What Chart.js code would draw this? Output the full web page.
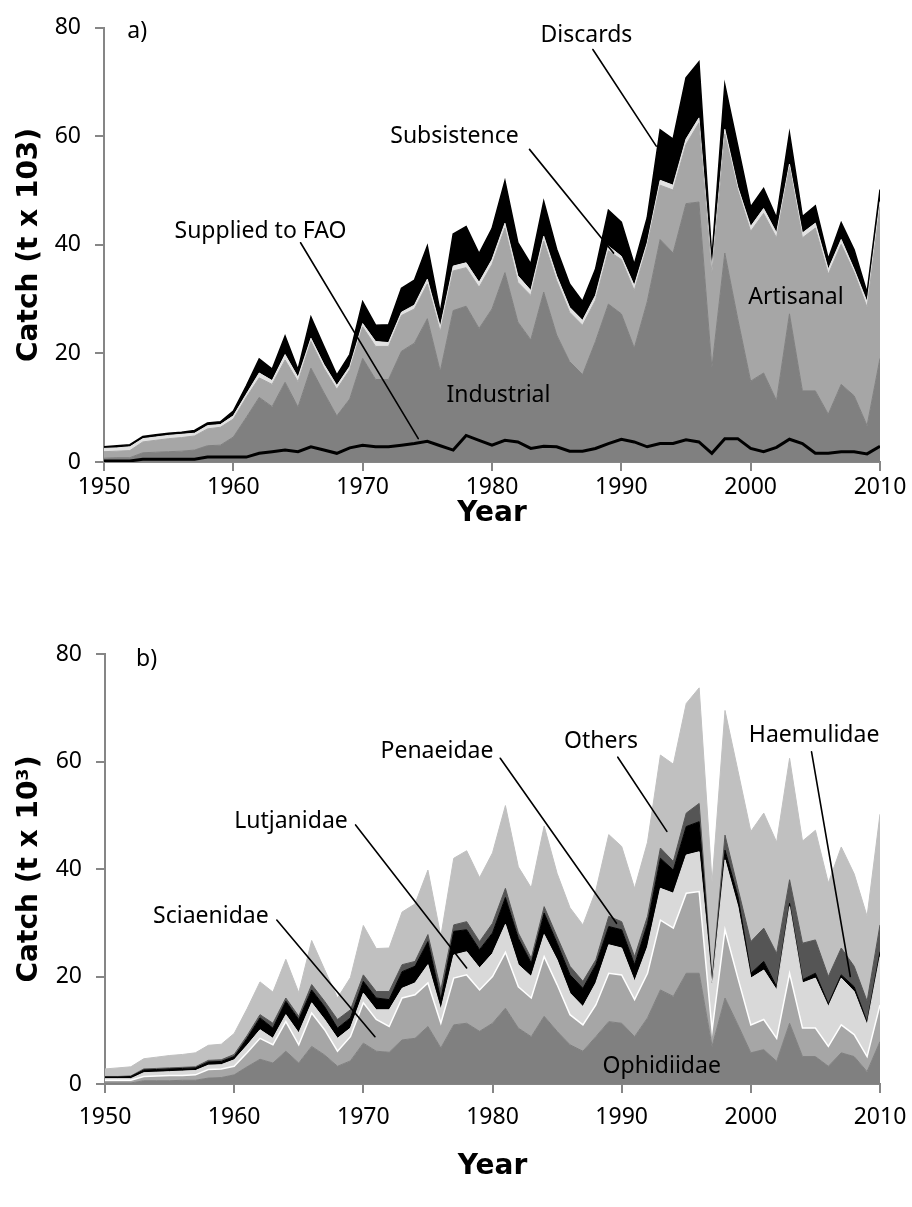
<!DOCTYPE html>
<html><head><meta charset="utf-8">
<script src="https://cdn.jsdelivr.net/npm/chart.js@4.4.0/dist/chart.umd.min.js"></script>
<style>
html,body{margin:0;padding:0;background:#fff;}
#wrap{position:relative;width:912px;height:1207px;overflow:hidden;}
canvas{position:absolute;left:0;}
#ca{top:0;}
#cb{top:600px;}
</style></head><body>
<div id="wrap"><canvas id="ca" width="912" height="560"></canvas><canvas id="cb" width="912" height="607"></canvas></div>
<script>
const years = [1950,1951,1952,1953,1954,1955,1956,1957,1958,1959,1960,1961,1962,1963,1964,1965,1966,1967,1968,1969,1970,1971,1972,1973,1974,1975,1976,1977,1978,1979,1980,1981,1982,1983,1984,1985,1986,1987,1988,1989,1990,1991,1992,1993,1994,1995,1996,1997,1998,1999,2000,2001,2002,2003,2004,2005,2006,2007,2008,2009,2010];
const xTicks = [1950,1960,1970,1980,1990,2000,2010];
const yTicks = [0,20,40,60,80];

// Panel a (sectors, t x 10^3)
const industrial = [0.7,0.8,0.8,1.7,1.8,1.9,2.0,2.2,3.0,3.1, 4.6,8.2,11.9,10.2,14.7,10.1,17.3,12.8,8.5,11.6, 19.1,15.2,15.2,20.4,21.9,26.4,16.7,27.9,28.7,24.6, 28.2,34.9,25.8,22.5,31.3,23.4,18.5,16.1,22.2,29.1, 27.3,21.0,29.5,41.0,38.5,47.6,47.9,17.3,38.5,26.4, 14.9,16.4,11.3,27.3,13.1,13.1,8.8,14.3,12.2,6.7,19.1];
const artisanal = [1.2,1.2,1.3,2.0,2.2,2.4,2.5,2.6,3.1,3.3, 3.3,3.7,3.6,4.1,4.1,4.7,4.9,4.5,4.9,5.4, 5.8,6.1,6.1,6.6,6.3,6.4,7.3,7.3,7.1,7.6, 8.2,8.2,7.3,8.2,9.4,10.0,9.1,9.1,7.6,9.8, 10.0,10.6,10.3,10.0,11.6,10.9,14.6,17.6,21.9,23.7, 27.6,29.4,30.0,27.0,28.2,30.0,25.8,25.8,22.7,21.8,27.9];
const subsistence = [0.6,0.6,0.7,0.6,0.6,0.6,0.6,0.5,0.6,0.5, 0.6,0.6,0.9,0.7,1.0,0.8,0.6,0.7,0.7,0.6, 0.6,0.9,0.7,0.6,0.7,0.9,0.9,0.9,0.9,0.9, 0.9,0.9,1.2,0.9,0.9,0.9,0.9,0.9,0.9,0.9, 0.6,0.9,0.6,0.9,0.9,1.0,0.9,0.6,0.9,0.6, 0.9,0.9,0.9,0.6,0.9,0.9,0.9,0.9,0.6,1.0,1.0];
const discards = [0.3,0.4,0.4,0.4,0.4,0.4,0.4,0.5,0.5,0.5, 0.9,1.5,2.6,2.1,3.4,1.4,3.9,3.3,1.9,2.2, 4.0,3.0,3.3,4.4,4.6,6.1,2.6,5.9,6.7,5.3, 5.7,7.8,6.1,4.9,6.4,4.9,4.3,3.5,4.8,6.6, 6.3,3.9,4.6,9.3,8.5,11.3,10.3,2.0,8.2,7.6, 3.6,3.7,2.8,5.7,3.0,3.2,1.9,3.1,3.6,1.7,2.2];
const suppliedFAO = [0.2,0.2,0.2,0.5,0.5,0.5,0.5,0.5,0.9,0.9, 0.9,0.9,1.6,1.9,2.2,1.9,2.8,2.2,1.6,2.6, 3.1,2.8,2.8,3.1,3.4,3.8,3.0,2.2,4.9,4.0, 3.1,4.0,3.7,2.5,2.9,2.8,2.0,2.0,2.5,3.4, 4.2,3.7,2.8,3.4,3.4,4.1,3.7,1.6,4.3,4.3, 2.5,1.9,2.7,4.2,3.4,1.6,1.6,1.9,1.9,1.5,2.9];

// Panel b (families, t x 10^3)
const ophidiidae = [0.2,0.2,0.2,0.6,0.6,0.6,0.7,0.7,1.1,1.2, 1.7,3.2,4.6,3.9,6.1,3.9,7.0,5.4,3.3,4.3, 7.6,6.1,5.9,8.2,8.5,10.7,6.7,11.0,11.3,9.8, 11.3,14.1,10.4,8.8,12.6,9.8,7.3,6.1,8.8,11.6, 11.3,8.8,12.3,17.5,16.3,20.6,20.6,7.0,16.0,11.0, 5.8,6.4,4.2,11.3,5.1,5.1,3.3,5.8,5.1,2.3,7.9];
const sciaenidae = [0.5,0.5,0.5,0.8,0.9,1.0,0.9,1.0,1.6,1.6, 1.6,2.6,3.9,3.4,5.5,3.4,6.2,4.7,2.8,4.5, 7.5,5.9,4.8,7.8,8.1,8.1,4.6,8.7,9.0,7.7, 8.7,10.4,7.7,7.2,11.1,8.7,5.6,4.9,5.9,9.0, 9.0,6.9,8.3,13.0,12.7,14.9,15.2,3.0,12.7,8.7, 5.2,5.6,4.3,9.3,5.3,5.3,3.7,5.2,4.1,2.8,6.8];
const lutjanidae = [0.3,0.3,0.3,0.7,0.7,0.7,0.8,0.8,0.8,0.8, 1.2,1.4,1.6,1.2,1.3,2.2,1.9,1.9,2.4,1.6, 1.8,1.8,3.1,1.8,2.2,3.4,2.5,4.3,4.3,4.1, 4.3,5.2,4.1,4.0,4.1,4.6,4.0,3.4,4.1,5.3, 5.0,3.4,4.9,5.9,6.5,7.1,7.4,8.3,13.0,13.3, 8.7,9.2,9.0,12.4,8.4,9.3,7.4,8.7,8.0,5.9,9.0];
const penaeidae = [0.3,0.3,0.4,0.5,0.5,0.5,0.5,0.5,0.6,0.6, 0.6,1.3,2.2,1.9,2.5,2.5,2.4,2.4,1.9,1.9, 2.2,2.2,1.9,3.1,3.1,4.3,1.9,4.4,4.1,3.4, 3.8,5.0,4.9,2.5,4.0,3.1,3.4,3.4,3.4,3.4, 3.4,3.1,4.3,5.6,4.3,5.3,5.6,0.5,1.8,1.9, 0.9,1.6,0.6,0.6,0.6,0.9,0.5,0.6,0.9,0.5,0.9];
const haemulidae = [0.1,0.1,0.1,0.2,0.2,0.2,0.2,0.2,0.3,0.3, 0.4,0.5,0.6,0.9,0.6,0.6,1.0,1.0,1.6,1.5, 1.2,1.2,1.5,1.3,0.9,1.3,1.8,1.2,1.5,1.5, 1.8,1.7,1.0,0.9,1.2,1.2,1.6,1.3,0.9,1.9, 1.5,1.5,1.4,1.9,1.6,2.5,3.4,0.6,2.8,1.5, 5.9,6.2,6.2,4.4,6.8,6.2,5.1,5.0,3.8,3.9,5.0];
const others = [1.4,1.6,1.7,1.9,2.1,2.3,2.4,2.6,2.8,2.9, 3.9,5.0,6.1,5.8,7.2,4.4,8.2,5.9,4.0,6.0, 9.2,8.0,8.1,9.8,10.7,12.0,10.0,12.4,13.2,11.9, 13.1,15.4,12.3,13.1,15.0,11.8,10.9,10.5,12.9,15.2, 14.0,12.7,13.8,17.3,18.1,20.4,21.5,18.1,23.2,21.9, 20.5,21.4,20.7,22.6,19.0,20.4,17.4,18.8,17.2,15.8,20.6];

// Annotations in data units: [text, year, value, align]
const labelsA = [["a)",1951.8,79.4,"left"],["Supplied to FAO",1962.1,42.4],["Subsistence",1977.1,60.0],["Discards",1987.3,78.6],["Industrial",1980.5,12.2],["Artisanal",2003.5,30.4]];
const leadersA = [[1965.2,40.4,1974.3,4.3],[1982.9,57.6,1989.4,38.5],[1987.8,76.0,1992.7,58.2]];
const labelsB = [["b)",1952.4,78.9,"left"],["Sciaenidae",1958.2,31.1],["Lutjanidae",1964.4,48.8],["Penaeidae",1975.7,61.8],["Others",1988.4,63.8],["Haemulidae",2004.9,64.9],["Ophidiidae",1993.1,3.2]];
const leadersB = [[1963.3,30.5,1970.9,8.8],[1969.4,48.2,1978.0,21.6],[1980.6,60.6,1989.6,29.9],[1989.7,60.8,1993.5,47.0],[2004.7,61.8,2007.7,20.0]];

const FONT = '"Noto Sans", "DejaVu Sans", sans-serif';
const TITLE_FONT = '"DejaVu Sans", sans-serif';
const AXIS_COLOR = '#868686';

const pts = arr => arr.map((v, i) => ({x: years[i], y: v}));

const annotate = {
  id: 'annotate',
  afterDatasetsDraw(chart, args, opts) {
    const {ctx} = chart; const x = chart.scales.x, y = chart.scales.y;
    ctx.save();
    ctx.strokeStyle = '#000'; ctx.lineWidth = 1.6; ctx.lineCap = 'round';
    for (const l of opts.leaders) {
      ctx.beginPath();
      ctx.moveTo(x.getPixelForValue(l[0]), y.getPixelForValue(l[1]));
      ctx.lineTo(x.getPixelForValue(l[2]), y.getPixelForValue(l[3]));
      ctx.stroke();
    }
    ctx.fillStyle = '#000'; ctx.font = '23px ' + FONT; ctx.textBaseline = 'middle';
    for (const t of opts.labels) {
      ctx.textAlign = t[3] || 'center';
      ctx.fillText(t[0], x.getPixelForValue(t[1]), y.getPixelForValue(t[2]));
    }
    ctx.restore();
  }
};

function area(label, data, color, border, bw, fill) {
  return {label, data: pts(data), backgroundColor: color, borderColor: border || color, borderWidth: bw === undefined ? 1 : bw,
    fill, pointRadius: 0, pointHoverRadius: 0, tension: 0, stack: 's'};
}

function makeChart(id, datasets, yTitle, yW, xH, padTop, tickPad, xTitlePad, labels, leaders) {
  return new Chart(document.getElementById(id), {
    type: 'line',
    data: {datasets},
    plugins: [annotate],
    options: {
      responsive: false, animation: false, events: [],
      layout: {padding: {top: padTop, right: 32, left: 0, bottom: 0}},
      plugins: {legend: {display: false}, tooltip: {enabled: false}, filler: {drawTime: 'beforeDatasetsDraw'},
        annotate: {labels, leaders}},
      scales: {
        x: {type: 'linear', min: 1950, max: 2010,
          afterFit(s) { s.height = xH; s.paddingLeft = 0; s.paddingRight = 0; },
          afterBuildTicks(s) { s.ticks = xTicks.map(v => ({value: v})); },
          ticks: {color: '#000', font: {family: FONT, size: 23}, padding: tickPad, callback: v => String(v), maxRotation: 0, autoSkip: false},
          grid: {drawOnChartArea: false, drawTicks: true, tickLength: 9, color: AXIS_COLOR, lineWidth: 2},
          border: {display: true, color: AXIS_COLOR, width: 2},
          title: {display: true, text: 'Year', color: '#000', font: {family: TITLE_FONT, size: 28, weight: 'bold'}, padding: {top: 0, bottom: xTitlePad}}},
        y: {type: 'linear', stacked: true, min: 0, max: 80,
          afterFit(s) { s.width = yW; },
          afterBuildTicks(s) { s.ticks = yTicks.map(v => ({value: v})); },
          ticks: {color: '#000', font: {family: FONT, size: 23}, padding: 14},
          grid: {drawOnChartArea: false, drawTicks: true, tickLength: 9, color: AXIS_COLOR, lineWidth: 2},
          border: {display: true, color: AXIS_COLOR, width: 2},
          title: {display: true, text: yTitle, color: '#000', font: {family: TITLE_FONT, size: 28, weight: 'bold'}, padding: {top: 13, bottom: 0}}}
      }
    }
  });
}

makeChart('ca', [
  area('Industrial', industrial, '#808080', '#808080', 1, 'origin'),
  area('Artisanal', artisanal, '#a6a6a6', '#a6a6a6', 1, '-1'),
  area('Subsistence', subsistence, '#e2e2e2', '#e2e2e2', 1, '-1'),
  area('Discards', discards, '#000000', '#000000', 1.5, '-1'),
  {label: 'Supplied to FAO', data: pts(suppliedFAO), borderColor: '#000', borderWidth: 3, fill: false, pointRadius: 0, tension: 0, stack: 'fao'}
], 'Catch (t x 103)', 104, 98, 22, 3, 29, labelsA, leadersA);

makeChart('cb', [
  area('Ophidiidae', ophidiidae, '#808080', '#808080', 1, 'origin'),
  area('Sciaenidae', sciaenidae, '#a6a6a6', '#ffffff', 1.5, '-1'),
  area('Lutjanidae', lutjanidae, '#d9d9d9', '#d9d9d9', 1, '-1'),
  area('Penaeidae', penaeidae, '#000000', '#000000', 1, '-1'),
  area('Haemulidae', haemulidae, '#555555', '#555555', 1, '-1'),
  area('Others', others, '#c0c0c0', '#c0c0c0', 1, '-1')
], 'Catch (t x 10³)', 105, 123, 54, 11, 23, labelsB, leadersB);
</script>
</body></html>
